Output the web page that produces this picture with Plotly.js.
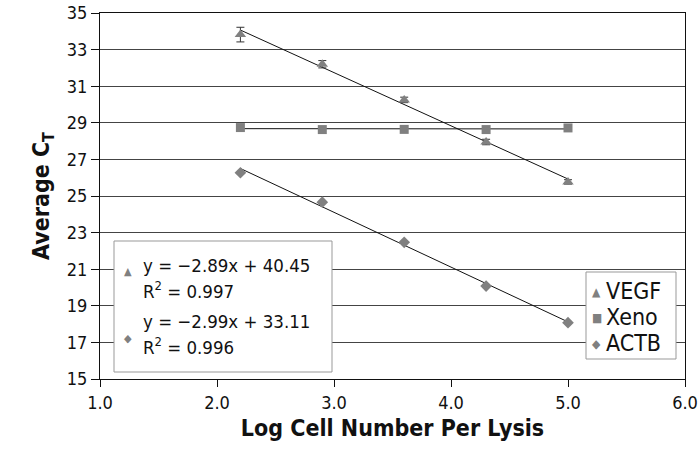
<!DOCTYPE html>
<html>
<head>
<meta charset="utf-8">
<script src="https://cdn.plot.ly/plotly-3.0.1.min.js"></script>
<style>html,body{margin:0;padding:0;background:#fff;}#chart{width:699px;height:458px;}</style>
</head>
<body>
<div id="chart"></div>
<script>
const xVals = [2.2, 2.9, 3.6, 4.3, 5.0];
const vegf = [33.82, 32.2, 30.25, 27.95, 25.77];
const vegfErr = [0.4, 0.2, 0.15, 0.15, 0.12];
const xeno = [28.74, 28.63, 28.64, 28.63, 28.72];
const actb = [26.27, 24.66, 22.47, 20.08, 18.08];
const seriesNames = ['VEGF', 'Xeno', 'ACTB'];
const seriesGlyphs = ['\u25B2', '\u25A0', '\u25C6'];
const eqVegf = ['y = \u22122.89x + 40.45', 'R<sup>2</sup> = 0.997'];
const eqActb = ['y = \u22122.99x + 33.11', 'R<sup>2</sup> = 0.996'];
const yTicks = [15, 17, 19, 21, 23, 25, 27, 29, 31, 33, 35];
const xTicks = [1, 2, 3, 4, 5, 6];

const FONT = '"DejaVu Sans Condensed", "Liberation Sans", sans-serif';
const GRAY = '#808080';

function fit(x, y) {
  const n = x.length;
  const mx = x.reduce((a, b) => a + b, 0) / n;
  const my = y.reduce((a, b) => a + b, 0) / n;
  let sxy = 0, sxx = 0;
  for (let i = 0; i < n; i++) { sxy += (x[i] - mx) * (y[i] - my); sxx += (x[i] - mx) ** 2; }
  const m = sxy / sxx;
  const b = my - m * mx;
  const x0 = Math.min(...x), x1 = Math.max(...x);
  return {x: [x0, x1], y: [m * x0 + b, m * x1 + b]};
}

const traces = [];
[vegf, xeno, actb].forEach(function (ys) {
  const f = fit(xVals, ys);
  traces.push({x: f.x, y: f.y, mode: 'lines', line: {color: '#111', width: 1}, showlegend: false, hoverinfo: 'skip'});
});
traces.push({
  x: xVals, y: vegf, name: seriesNames[0], mode: 'markers', showlegend: false,
  marker: {symbol: 'triangle-up', size: 10, color: GRAY},
  error_y: {type: 'data', array: vegfErr, visible: true, color: '#333', thickness: 1, width: 4}
});
traces.push({x: xVals, y: xeno, name: seriesNames[1], mode: 'markers', showlegend: false, marker: {symbol: 'square', size: 9, color: GRAY}});
traces.push({x: xVals, y: actb, name: seriesNames[2], mode: 'markers', showlegend: false, marker: {symbol: 'diamond', size: 9, color: GRAY}});

// pixel -> paper helpers (plot area 100..685 x 13..379)
const px = v => (v - 100) / 585;
const py = v => (379 - v) / 366;

const ann = [];
function addText(t, x, y, size, color) {
  ann.push({text: t, xref: 'paper', yref: 'paper', x: px(x), y: py(y), xanchor: 'left', yanchor: 'middle',
    showarrow: false, font: {family: FONT, size: size, color: color || '#111'}});
}
addText(eqVegf[0], 141, 265, 18.5);
addText(eqVegf[1], 141, 290, 18.5);
addText(eqActb[0], 141, 321, 18.5);
addText(eqActb[1], 141, 346, 18.5);
addText('\u25B2', 122, 271, 11, GRAY);
addText('\u25C6', 122, 338, 11, GRAY);

// legend
const legY = [291, 317, 343];
seriesNames.forEach(function (nm, i) {
  addText(seriesGlyphs[i], 590, legY[i] + 1, 12, GRAY);
  addText(nm, 604, legY[i], 23);
});

const layout = {
  width: 699, height: 458,
  margin: {l: 100, r: 14, t: 13, b: 79},
  paper_bgcolor: '#fff', plot_bgcolor: '#fff',
  font: {family: FONT, color: '#111'},
  showlegend: false,
  xaxis: {
    range: [1, 6], tickvals: xTicks, ticktext: xTicks.map(v => v.toFixed(1)),
    showgrid: false, zeroline: false, ticklabeloverflow: 'allow',
    showline: true, linecolor: '#111', linewidth: 1, mirror: true,
    ticks: 'outside', ticklen: 7, tickcolor: '#111',
    tickfont: {family: FONT, size: 18, color: '#111'},
    title: {text: '<b>Log Cell Number Per Lysis</b>', font: {family: FONT, size: 23, color: '#111'}, standoff: 8}
  },
  yaxis: {
    range: [15, 35], tickvals: yTicks,
    showgrid: true, gridcolor: '#444', gridwidth: 1, zeroline: false,
    showline: true, linecolor: '#111', linewidth: 1, mirror: true,
    ticks: 'outside', ticklen: 8, tickcolor: '#111',
    tickfont: {family: FONT, size: 18, color: '#111'},
    title: {text: '<b>Average C<sub>T</sub></b>', font: {family: FONT, size: 23, color: '#111'}, standoff: 10}
  },
  shapes: [{
    type: 'rect', xref: 'paper', yref: 'paper',
    x0: px(114), x1: px(332), y0: py(241), y1: py(372),
    line: {color: '#999', width: 1}, fillcolor: '#fff', layer: 'above'
  }, {
    type: 'rect', xref: 'paper', yref: 'paper',
    x0: px(586), x1: px(676), y0: py(272), y1: py(359),
    line: {color: '#999', width: 1}, fillcolor: '#fff', layer: 'above'
  }],
  annotations: ann
};

Plotly.newPlot('chart', traces, layout, {displayModeBar: false, staticPlot: true});
</script>
</body>
</html>
